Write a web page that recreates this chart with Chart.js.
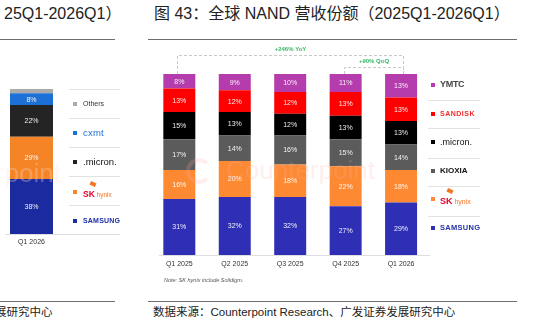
<!DOCTYPE html>
<html><head><meta charset="utf-8">
<script src="https://cdn.jsdelivr.net/npm/chart.js@4"></script>
<style>
html,body{margin:0;padding:0;background:#fff;}
#page{position:relative;width:545px;height:332px;overflow:hidden;font-family:'Liberation Sans',Arial,'Noto Sans CJK SC',sans-serif;color:#222;}
.abs{position:absolute;white-space:nowrap;}
.hline{position:absolute;height:1px;background:#6e6e6e;}
.sep{position:absolute;height:1px;background:#e2e2e2;}
.base{position:absolute;height:1px;background:#dedede;}
.mk{position:absolute;width:4px;height:4px;}
.lg{position:absolute;white-space:nowrap;line-height:12px;height:12px;}
canvas{position:absolute;}
</style></head>
<body><div id="page">
<div class="abs" style="left:4px;top:4px;font-size:16px;line-height:19px;">25Q1-2026Q1）</div>
<div class="abs" style="left:154px;top:4px;font-size:16px;line-height:19px;">图 43：全球 NAND 营收份额（2025Q1-2026Q1）</div>
<div class="hline" style="left:0;top:39px;width:115px;"></div>
<div class="hline" style="left:148px;top:39px;width:369px;"></div>
<div class="hline" style="left:0;top:301px;width:115px;"></div>
<div class="hline" style="left:148px;top:301px;width:369px;"></div>
<div class="abs" style="left:-5px;top:306px;font-size:11.5px;line-height:13px;">展研究中心</div>
<div class="abs" style="left:153px;top:306px;font-size:11.5px;line-height:13px;">数据来源：Counterpoint Research、广发证券发展研究中心</div>

<canvas id="left" width="70" height="200" style="left:0;top:60px;"></canvas>
<canvas id="right" width="290" height="240" style="left:150px;top:40px;"></canvas>

<div class="base" style="left:5px;top:234px;width:115px;"></div>
<div class="base" style="left:159px;top:255px;width:271px;"></div>
<div class="abs" style="left:164px;top:277px;font-size:5.5px;font-style:italic;color:#555;">Note: SK hynix include Solidigm.</div>

<!-- watermarks -->
<div class="abs" style="left:226px;top:155px;font-size:26px;color:rgba(255,170,170,0.2);">Counterpoint</div>
<div class="abs" style="left:186px;top:158px;width:18px;height:18px;border:4px solid rgba(255,170,170,0.2);border-radius:50%;border-right-color:transparent;"></div>
<div class="abs" style="left:-88px;top:158px;font-size:26px;color:rgba(250,225,215,0.3);">Counterpoint</div>

<!-- left legend -->
<div class="sep" style="left:69px;top:89px;width:51px;"></div>
<div class="sep" style="left:69px;top:118px;width:51px;"></div>
<div class="sep" style="left:69px;top:147px;width:51px;"></div>
<div class="sep" style="left:69px;top:176px;width:51px;"></div>
<div class="sep" style="left:69px;top:205px;width:51px;"></div>
<div class="mk" style="left:73px;top:102px;background:#ababab;"></div>
<div class="lg" style="left:83px;top:98px;font-size:7px;color:#333;">Others</div>
<div class="mk" style="left:73px;top:131px;background:#1c70d6;"></div>
<div class="lg" style="left:83px;top:127px;font-size:9.5px;color:#1c70d6;letter-spacing:0.2px;">cxmt</div>
<div class="mk" style="left:73px;top:160px;background:#222;"></div>
<div class="lg" style="left:83px;top:156px;font-size:9.5px;color:#111;">.micron.</div>
<div class="mk" style="left:73px;top:190px;background:#f58426;"></div>
<div class="abs" style="left:90px;top:182px;width:6px;height:4px;background:#f47725;transform:rotate(25deg);"></div>
<div class="lg" style="left:83px;top:186px;"><span style="font-size:8.5px;font-weight:bold;color:#e4002b;">SK</span><span style="font-size:6.5px;color:#f47725;"> hynix</span></div>
<div class="mk" style="left:73px;top:219px;background:#1b2a9e;"></div>
<div class="lg" style="left:83px;top:215px;font-size:7px;font-weight:bold;color:#1b2fa6;letter-spacing:0.2px;">SAMSUNG</div>

<!-- right legend -->
<div class="sep" style="left:428px;top:100px;width:52px;"></div>
<div class="sep" style="left:428px;top:128px;width:52px;"></div>
<div class="sep" style="left:428px;top:158px;width:52px;"></div>
<div class="sep" style="left:428px;top:186px;width:52px;"></div>
<div class="sep" style="left:428px;top:216px;width:52px;"></div>
<div class="mk" style="left:431px;top:83px;background:#b43cad;"></div>
<div class="lg" style="left:440px;top:78px;font-size:9px;font-weight:bold;color:#444;letter-spacing:-0.3px;">YMTC</div>
<div class="mk" style="left:431px;top:112px;background:#ff0000;"></div>
<div class="lg" style="left:440px;top:108px;font-size:7px;font-weight:bold;color:#f32a2a;letter-spacing:0.5px;">SANDISK</div>
<div class="mk" style="left:431px;top:140px;background:#000;"></div>
<div class="lg" style="left:440px;top:136px;font-size:9px;color:#111;">.micron.</div>
<div class="mk" style="left:431px;top:169px;background:#5b5b5b;"></div>
<div class="lg" style="left:440px;top:165px;font-size:8px;font-weight:bold;color:#111;">KIOXIA</div>
<div class="mk" style="left:431px;top:197px;background:#fd8a32;"></div>
<div class="abs" style="left:447px;top:189px;width:6px;height:4px;background:#f47725;transform:rotate(25deg);"></div>
<div class="lg" style="left:440px;top:193px;"><span style="font-size:9px;font-weight:bold;color:#e4002b;">SK</span><span style="font-size:7px;color:#f47725;"> hynix</span></div>
<div class="mk" style="left:431px;top:226px;background:#2f2fb5;"></div>
<div class="lg" style="left:440px;top:222px;font-size:7.5px;font-weight:bold;color:#2433a6;letter-spacing:0.3px;">SAMSUNG</div>
</div>
<script>
// ---- data ----
const leftCategories = ['Q1 2026'];
const leftSamsung = [38];
const leftSkHynix = [29];
const leftMicron = [22];
const leftCxmt = [8];
const leftOthers = [3];

const rightCategories = ['Q1 2025', 'Q2 2025', 'Q3 2025', 'Q4 2025', 'Q1 2026'];
const samsung = [31, 32, 32, 27, 29];
const skHynix = [16, 20, 18, 22, 18];
const kioxia  = [17, 14, 16, 15, 14];
const micron  = [15, 13, 12, 13, 13];
const sandisk = [13, 12, 12, 13, 13];
const ymtc    = [8, 9, 10, 11, 13];

const yoyLabel = '+246% YoY';
const qoqLabel = '+90% QoQ';

Chart.defaults.font.family = "'Liberation Sans', Arial, sans-serif";

const barLabels = {
  id: 'barLabels',
  afterDatasetsDraw(chart, args, opts) {
    const ctx = chart.ctx;
    ctx.save();
    ctx.font = opts.size + "px 'Liberation Sans', Arial, sans-serif";
    ctx.fillStyle = 'rgba(255,255,255,0.92)';
    ctx.textAlign = 'center';
    ctx.textBaseline = 'middle';
    chart.data.datasets.forEach((ds, i) => {
      if (ds.noLabel) return;
      chart.getDatasetMeta(i).data.forEach((el, j) => {
        const p = el.getProps(['x', 'y', 'base'], true);
        const top = Math.max(p.y, chart.chartArea.top);
        ctx.fillText(ds.data[j] + '%', p.x, (top + p.base) / 2 + 0.5);
      });
    });
    ctx.restore();
  }
};

const brackets = {
  id: 'brackets',
  afterDraw(chart, args, opts) {
    const ctx = chart.ctx;
    const xs = chart.scales.x;
    const top = chart.chartArea.top;
    ctx.save();
    ctx.strokeStyle = '#c9c9c9';
    ctx.lineWidth = 1;
    ctx.setLineDash([3, 2]);
    const draw = (i0, i1, lift, label) => {
      const x0 = Math.round(xs.getPixelForValue(i0) - 2) + 0.5;
      const x1 = Math.round(xs.getPixelForValue(i1) + 2) + 0.5;
      const y = Math.round(top - lift) + 0.5;
      ctx.beginPath();
      ctx.moveTo(x0, top); ctx.lineTo(x0, y); ctx.lineTo(x1, y); ctx.lineTo(x1, top);
      ctx.stroke();
      ctx.save();
      ctx.setLineDash([]);
      ctx.fillStyle = '#35b866';
      ctx.font = "bold 6px 'Liberation Sans', Arial, sans-serif";
      ctx.textAlign = 'center';
      ctx.textBaseline = 'middle';
      ctx.fillText(label, (x0 + x1) / 2, y - 6);
      ctx.restore();
    };
    draw(0, 4, 19, yoyLabel);
    draw(3, 4, 7, qoqLabel);
    ctx.restore();
  }
};

const common = (pad, catPct, lblSize, tickSize, tickPad) => ({
  responsive: false,
  animation: false,
  maintainAspectRatio: false,
  layout: { padding: pad },
  plugins: { legend: { display: false }, tooltip: { enabled: false }, barLabels: { size: lblSize } },
  datasets: { bar: { barPercentage: 1, categoryPercentage: catPct } },
  scales: {
    x: { stacked: true, grid: { display: false, drawTicks: false }, border: { display: false },
         ticks: { font: { size: tickSize }, color: '#333', padding: tickPad, maxRotation: 0 } },
    y: { stacked: true, display: false, min: 0, max: 100 }
  }
});

function fitBottom(chart, target) {
  const d = chart.chartArea.bottom - target;
  chart.options.layout.padding.bottom = Math.max(0, chart.options.layout.padding.bottom + d);
  chart.update();
}

const leftChart = new Chart(document.getElementById('left'), {
  type: 'bar',
  data: {
    labels: leftCategories,
    datasets: [
      { label: 'SAMSUNG', data: leftSamsung, backgroundColor: '#1b2a9e' },
      { label: 'SK hynix', data: leftSkHynix, backgroundColor: '#f58426' },
      { label: 'micron', data: leftMicron, backgroundColor: '#242424' },
      { label: 'CXMT', data: leftCxmt, backgroundColor: '#1c70d6' },
      { label: 'Others', data: leftOthers, backgroundColor: '#ababab', noLabel: true }
    ]
  },
  options: common({ left: 5, right: 12, top: 29, bottom: 13 }, 0.811, 7, 7, 4),
  plugins: [barLabels]
});
fitBottom(leftChart, 174);

const rightChart = new Chart(document.getElementById('right'), {
  type: 'bar',
  data: {
    labels: rightCategories,
    datasets: [
      { label: 'SAMSUNG', data: samsung, backgroundColor: '#2f2fb5' },
      { label: 'SK hynix', data: skHynix, backgroundColor: '#fd8a32' },
      { label: 'KIOXIA', data: kioxia, backgroundColor: '#5b5b5b' },
      { label: 'micron', data: micron, backgroundColor: '#000000' },
      { label: 'SANDISK', data: sandisk, backgroundColor: '#ff0000' },
      { label: 'YMTC', data: ymtc, backgroundColor: '#b43cad' }
    ]
  },
  options: common({ left: 1.6, right: 11.2, top: 34, bottom: 10 }, 0.577, 7, 7, 5),
  plugins: [barLabels, brackets]
});
fitBottom(rightChart, 215);
</script>
</body></html>
